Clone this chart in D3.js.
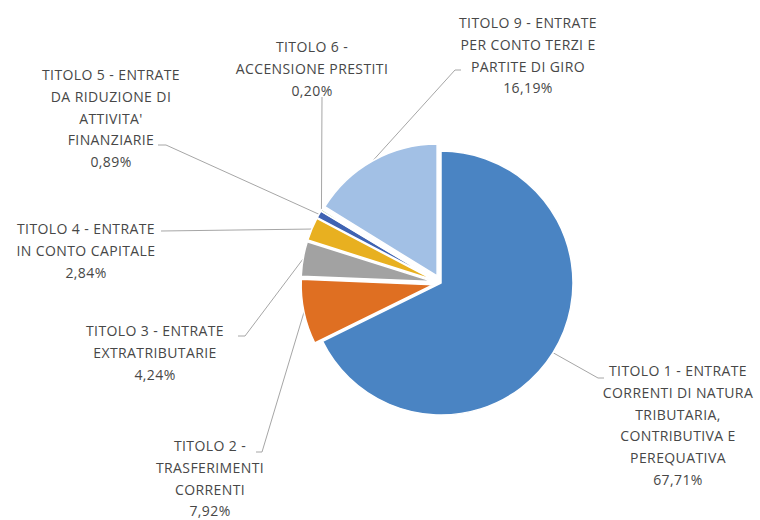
<!DOCTYPE html>
<html>
<head>
<meta charset="utf-8">
<script src="https://cdn.jsdelivr.net/npm/d3@7"></script>
<style>
  body { margin: 0; background: #fff; }
  text { font-family: "Open Sans", "Noto Sans", sans-serif; }
</style>
</head>
<body>
<script>
// data (percent of total revenue)
const categories = ['TITOLO 1', 'TITOLO 2', 'TITOLO 3', 'TITOLO 4', 'TITOLO 5', 'TITOLO 6', 'TITOLO 9'];
const values = [67.71, 7.92, 4.24, 2.84, 0.89, 0.20, 16.19];
const labelLines = [
    ['TITOLO 1 - ENTRATE', 'CORRENTI DI NATURA', 'TRIBUTARIA,', 'CONTRIBUTIVA E', 'PEREQUATIVA'],
    ['TITOLO 2 -', 'TRASFERIMENTI', 'CORRENTI'],
    ['TITOLO 3 - ENTRATE', 'EXTRATRIBUTARIE'],
    ['TITOLO 4 - ENTRATE', 'IN CONTO CAPITALE'],
    ['TITOLO 5 - ENTRATE', 'DA RIDUZIONE DI', "ATTIVITA'", 'FINANZIARIE'],
    ['TITOLO 6 -', 'ACCENSIONE PRESTITI'],
    ['TITOLO 9 - ENTRATE', 'PER CONTO TERZI E', 'PARTITE DI GIRO']
];
const colors = ['#4a84c3', '#df6f22', '#a2a2a2', '#e8b020', '#3f63b2', '#5f9a3e', '#a2c0e5'];

// layout
const width = 760, height = 520;
const cx = 441, cy = 283, radius = 132;
const explode = [0, 8, 8, 8, 8, 8, 8];
const lineH = 21.8;
// label centre x, first line y, leader elbow and end
const labelLayout = [
    { x: 678, y: 371, elbow: [598, 378], end: [604, 378] },
    { x: 210, y: 446, elbow: [262, 452], end: [256, 452] },
    { x: 155, y: 331, elbow: [245, 336], end: [238, 336] },
    { x: 86,  y: 229, elbow: null,       end: [161, 231] },
    { x: 111, y: 75,  elbow: [166, 145], end: [158, 145] },
    { x: 312, y: 47,  elbow: null,       end: [322, 97] },
    { x: 528, y: 23,  elbow: [455, 70],  end: [461, 70] }
];

const fmt = d3.formatLocale({ decimal: ',', thousands: '.', grouping: [3], currency: ['', '€'] }).format('.2f');

const svg = d3.select('body')
    .append('svg')
    .attr('width', width)
    .attr('height', height);

const pie = d3.pie().sort(null).value(d => d);
const arcs = pie(values);
const arc = d3.arc().innerRadius(0).outerRadius(radius);

// offset of each slice along its mid angle
let offset = (d, i) => {
    let a = (d.startAngle + d.endAngle) / 2;
    return [Math.sin(a) * explode[i], -Math.cos(a) * explode[i]];
};

// leader lines
let leaders = svg.append('g').attr('id', 'leaders');
arcs.forEach((d, i) => {
    let a = (d.startAngle + d.endAngle) / 2;
    let o = offset(d, i);
    let start = [cx + o[0] + Math.sin(a) * radius, cy + o[1] - Math.cos(a) * radius];
    let L = labelLayout[i];
    let pts = [start];
    if (L.elbow) pts.push(L.elbow);
    pts.push(L.end);
    leaders.append('path')
        .attr('d', d3.line()(pts))
        .attr('fill', 'none')
        .attr('stroke', '#a6a6a6')
        .attr('stroke-width', 1);
});

// slices
let slices = svg.append('g')
    .attr('id', 'pie')
    .attr('transform', `translate(${cx}, ${cy})`);

slices.selectAll('path')
    .data(arcs)
    .enter()
    .append('path')
    .attr('d', arc)
    .attr('transform', (d, i) => `translate(${offset(d, i)})`)
    .attr('fill', (d, i) => colors[i])
    .attr('stroke', '#fff')
    .attr('stroke-width', 1.5)
    .attr('stroke-linejoin', 'round');

// labels
let labels = svg.append('g').attr('id', 'labels');
labelLayout.forEach((L, i) => {
    let lines = labelLines[i].concat([fmt(values[i]) + '%']);
    let t = labels.append('text')
        .attr('text-anchor', 'middle')
        .attr('fill', '#474747')
        .attr('font-size', '14px')
        .attr('letter-spacing', '0.4px');
    lines.forEach((s, k) => {
        t.append('tspan')
            .attr('x', L.x)
            .attr('y', L.y + k * lineH)
            .attr('dy', '0.35em')
            .text(s);
    });
});
</script>
</body>
</html>
